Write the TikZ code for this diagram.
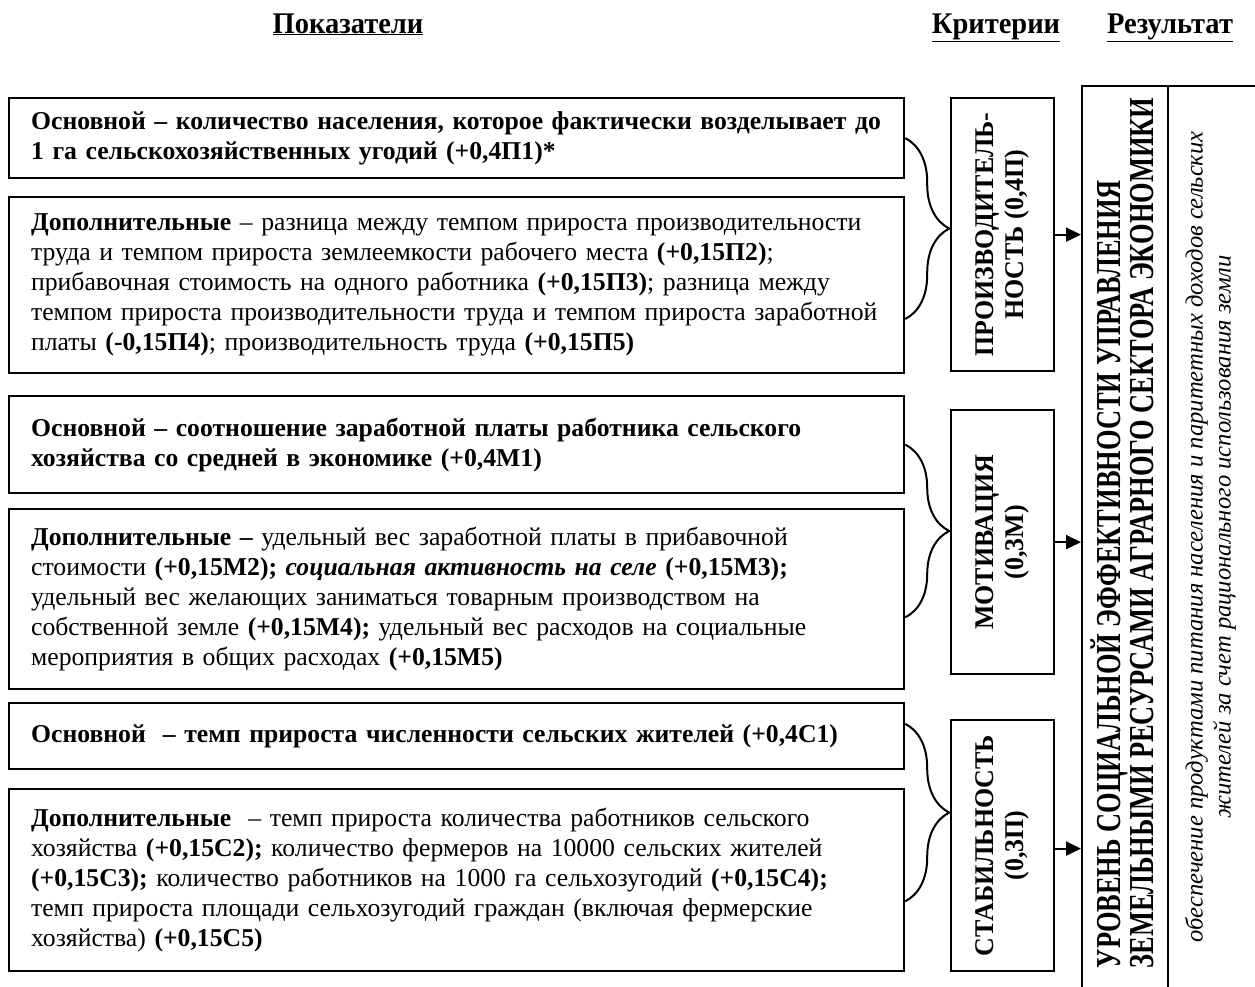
\documentclass[tikz,border=0pt]{standalone}
\usepackage{fontspec}
\setmainfont{Liberation Serif}
\usetikzlibrary{arrows.meta,decorations.pathreplacing,calc}
\tikzset{
  box/.style={draw, line width=2.2pt, anchor=north west, minimum width=895pt, text width=851pt, inner xsep=22pt, align=left, font=\fontsize{25.7}{30}\selectfont},
  crit/.style={draw, line width=2.2pt, anchor=north west, minimum width=103pt, inner sep=0pt},
  res/.style={draw, line width=2.2pt, anchor=north west, inner sep=0pt},
  brc/.style={decorate, decoration={brace, amplitude=44pt, aspect=0.5}, line width=2pt},
  arr/.style={line width=2pt, -{Triangle[length=15pt,width=14pt]}},
  hdr/.style={anchor=base, font=\bfseries\fontsize{30}{34}\selectfont}
}
\begin{document}
\begin{tikzpicture}[x=1pt,y=-1pt]
\useasboundingbox (0,0) rectangle (1255,986);
\clip (0,0) rectangle (1255,986);
% headers
\node[hdr] (h1) at (348,33) {\scalebox{0.95}[1]{\underline{Показатели}}};
\node[hdr] (h2) at (996,33) {\scalebox{0.95}[1]{\underline{Критерии}}};
\node[hdr] (h3) at (1170,33) {\scalebox{0.95}[1]{\underline{Результат}}};
% indicator boxes
\node[box, minimum height=80pt] (b1) at (8,97) {\textbf{Основной – количество населения, которое фактически возделывает до}\\\textbf{1 га сельскохозяйственных угодий (+0,4П1)*}};
\node[box, minimum height=176pt] (b2) at (8,196) {\textbf{Дополнительные} – разница между темпом прироста производительности\\труда и темпом прироста землеемкости рабочего места \textbf{(+0,15П2)};\\прибавочная стоимость на одного работника \textbf{(+0,15П3)}; разница между\\темпом прироста производительности труда и темпом прироста заработной\\платы \textbf{(-0,15П4)}; производительность труда \textbf{(+0,15П5)}};
\node[box, minimum height=97pt] (b3) at (8,395) {\textbf{Основной – соотношение заработной платы работника сельского}\\\textbf{хозяйства со средней в экономике (+0,4М1)}};
\node[box, minimum height=180pt] (b4) at (8,508) {\textbf{Дополнительные –} удельный вес заработной платы в прибавочной\\стоимости \textbf{(+0,15М2);} \textbf{\textit{социальная активность на селе}} \textbf{(+0,15М3);}\\удельный вес желающих заниматься товарным производством на\\собственной земле \textbf{(+0,15М4);} удельный вес расходов на социальные\\мероприятия в общих расходах \textbf{(+0,15М5)}};
\node[box, minimum height=66pt] (b5) at (8,702) {\textbf{Основной \ – темп прироста численности сельских жителей (+0,4С1)}};
\node[box, minimum height=182pt] (b6) at (8,788) {\textbf{Дополнительные} \ – темп прироста количества работников сельского\\хозяйства \textbf{(+0,15С2);} количество фермеров на 10000 сельских жителей\\\textbf{(+0,15С3);} количество работников на 1000 га сельхозугодий \textbf{(+0,15С4);}\\темп прироста площади сельхозугодий граждан (включая фермерские\\хозяйства) \textbf{(+0,15С5)}};
% criteria boxes
\node[crit, minimum height=273pt] (P) at (950,97) {\rotatebox{90}{\scalebox{0.96}[1]{\bfseries\fontsize{27}{30}\selectfont\begin{tabular}{@{}c@{}}ПРОИЗВОДИТЕЛЬ-\\НОСТЬ (0,4П)\end{tabular}}}};
\node[crit, minimum height=264pt] (M) at (950,409) {\rotatebox{90}{\scalebox{0.96}[1]{\bfseries\fontsize{27}{30}\selectfont\begin{tabular}{@{}c@{}}МОТИВАЦИЯ\\(0,3М)\end{tabular}}}};
\node[crit, minimum height=251pt] (S) at (950,719) {\rotatebox{90}{\scalebox{0.96}[1]{\bfseries\fontsize{27}{30}\selectfont\begin{tabular}{@{}c@{}}СТАБИЛЬНОСТЬ\\(0,3П)\end{tabular}}}};
% result
\node[res, minimum width=86pt, minimum height=930pt] (R1) at (1081,85) {};
\node[res, minimum width=120pt, minimum height=930pt] (R2) at (1167,85) {};
\node[inner sep=0pt] (R1t) at (1127,533) {\rotatebox{90}{\scalebox{0.755}[1]{\bfseries\fontsize{35}{33}\selectfont\begin{tabular}{@{}l@{}}УРОВЕНЬ СОЦИАЛЬНОЙ ЭФФЕКТИВНОСТИ УПРАВЛЕНИЯ\\ЗЕМЕЛЬНЫМИ РЕСУРСАМИ АГРАРНОГО СЕКТОРА ЭКОНОМИКИ\end{tabular}}}};
\node (R2t) at (1211,537) {\rotatebox{90}{\itshape\fontsize{24.6}{28}\selectfont\begin{tabular}{@{}c@{}}обеспечение продуктами питания населения и паритетных доходов сельских\\жителей за счет рационального использования земли\end{tabular}}};
% braces
\draw[brc] (b1.east) -- ($(b2.north east)!0.69!(b2.south east)$);
\draw[brc] (b3.east) -- ($(b4.north east)!0.6!(b4.south east)$);
\draw[brc] ($(b5.north east)!0.32!(b5.south east)$) -- ($(b6.north east)!0.615!(b6.south east)$);
% arrows
\draw[arr] (P.east) -- (P.east -| R1.west);
\draw[arr] (M.east) -- (M.east -| R1.west);
\draw[arr] ($(S.east)+(0,3)$) -- ($(S.east -| R1.west)+(0,3)$);
\end{tikzpicture}
\end{document}
